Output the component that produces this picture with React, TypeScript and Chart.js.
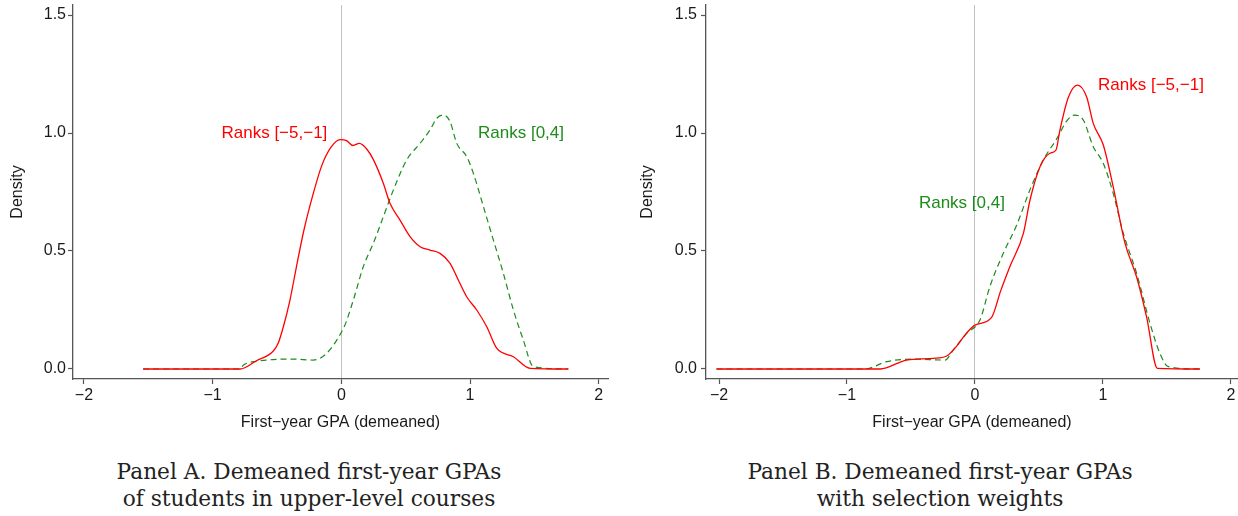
import React, { useEffect, useRef } from 'react';
import { Chart, registerables } from 'chart.js';

Chart.register(...registerables);

// ---------- tick labels ----------
const xTickValues = [-2, -1, 0, 1, 2];
const xTickLabels = ['−2', '−1', '0', '1', '2'];
const yTickValues = [0, 0.5, 1, 1.5];
const yTickLabels = ['0.0', '0.5', '1.0', '1.5'];

const xTitle = 'First−year GPA (demeaned)';
const yTitle = 'Density';
const redName = 'Ranks [−5,−1]';
const greenName = 'Ranks [0,4]';

// ---------- Panel A: Ranks [-5,-1] (red, solid) ----------
const aRedX = [-1.54, -0.787, -0.66, -0.53, -0.49, -0.45, -0.4, -0.35, -0.29, -0.22, -0.15, -0.08, -0.01, 0.04, 0.09, 0.14, 0.2, 0.25, 0.326, 0.378, 0.456, 0.534, 0.612, 0.689, 0.767, 0.845, 0.909, 0.974, 1.052, 1.13, 1.207, 1.337, 1.466, 1.764];
const aRedY = [0, 0, 0.035, 0.075, 0.11, 0.18, 0.29, 0.43, 0.59, 0.74, 0.865, 0.94, 0.972, 0.968, 0.947, 0.956, 0.93, 0.886, 0.787, 0.702, 0.631, 0.561, 0.518, 0.504, 0.49, 0.448, 0.377, 0.306, 0.25, 0.179, 0.088, 0.052, 0.003, 0];

// ---------- Panel A: Ranks [0,4] (green, dashed) ----------
const aGreenX = [-1.54, -0.787, -0.76, -0.65, -0.53, -0.38, -0.218, 0.016, 0.093, 0.171, 0.249, 0.326, 0.404, 0.508, 0.612, 0.689, 0.741, 0.793, 0.845, 0.897, 0.974, 1.026, 1.104, 1.181, 1.259, 1.337, 1.414, 1.492, 1.764];
const aGreenY = [0, 0, 0.017, 0.033, 0.04, 0.042, 0.038, 0.172, 0.292, 0.434, 0.533, 0.645, 0.758, 0.886, 0.956, 1.013, 1.062, 1.076, 1.048, 0.956, 0.9, 0.829, 0.688, 0.547, 0.405, 0.25, 0.123, 0.01, 0];

// ---------- Panel B: Ranks [-5,-1] (red, solid) ----------
const bRedX = [-2.02, -0.742, -0.534, -0.326, -0.221, -0.143, -0.065, 0.0, 0.13, 0.2, 0.273, 0.378, 0.43, 0.508, 0.586, 0.633, 0.664, 0.729, 0.8, 0.872, 0.924, 1.002, 1.08, 1.172, 1.263, 1.341, 1.425, 1.758];
const bRedY = [0, 0, 0.038, 0.045, 0.055, 0.097, 0.153, 0.186, 0.219, 0.33, 0.434, 0.575, 0.716, 0.857, 0.914, 0.928, 1.013, 1.15, 1.203, 1.154, 1.041, 0.95, 0.772, 0.533, 0.39, 0.22, 0.003, 0];

// ---------- Panel B: Ranks [0,4] (green, dashed) ----------
const bGreenX = [-2.02, -0.86, -0.69, -0.48, -0.234, -0.17, -0.065, 0.039, 0.117, 0.221, 0.326, 0.43, 0.534, 0.638, 0.716, 0.775, 0.846, 0.924, 1.002, 1.08, 1.159, 1.263, 1.367, 1.445, 1.51, 1.758];
const bGreenY = [0, 0, 0.031, 0.042, 0.038, 0.08, 0.151, 0.208, 0.35, 0.49, 0.61, 0.76, 0.886, 0.975, 1.05, 1.076, 1.055, 0.942, 0.872, 0.744, 0.575, 0.405, 0.194, 0.066, 0.01, 0];

// ---------- in-plot labels (data coordinates) ----------
const aLabelX = [-0.52, 1.396];
const aLabelY = [1.0, 1.0];
const bLabelX = [1.375, -0.102];
const bLabelY = [1.2, 0.702];

const RED = '#ff0000';
const GREEN = '#1c8c1c';
const AXIS = '#555555';
const TEXT = '#1a1a1a';
const FONT = '"Liberation Sans", Arial, Helvetica, sans-serif';

const toPoints = (xs: number[], ys: number[]) => xs.map((x, i) => ({ x, y: ys[i] }));

const labelPlugin = {
  id: 'rankLabels',
  afterDatasetsDraw(chart: any, _args: any, opts: any) {
    const { ctx, scales } = chart;
    ctx.save();
    ctx.font = `17px ${FONT}`;
    ctx.textAlign = 'center';
    ctx.textBaseline = 'middle';
    (opts.labels || []).forEach((l: any) => {
      ctx.fillStyle = l.color;
      ctx.fillText(l.text, scales.x.getPixelForValue(l.x), scales.y.getPixelForValue(l.y));
    });
    ctx.restore();
  },
};

type PanelProps = {
  left: number;
  width: number;
  height: number;
  yAxisWidth: number;
  xAxisHeight: number;
  rightPad: number;
  xMin: number;
  xMax: number;
  yLabelPad: number;
  redX: number[];
  redY: number[];
  greenX: number[];
  greenY: number[];
  labelX: number[];
  labelY: number[];
};

function Panel(p: PanelProps) {
  const ref = useRef<HTMLCanvasElement | null>(null);
  useEffect(() => {
    if (!ref.current) return;
    const zeroPad = (s: any) => {
      s.paddingLeft = 0;
      s.paddingRight = 0;
      s.paddingTop = 0;
      s.paddingBottom = 0;
    };
    const chart = new Chart(ref.current, {
      type: 'line',
      data: {
        datasets: [
          {
            label: redName,
            data: toPoints(p.redX, p.redY),
            borderColor: RED,
            borderWidth: 1.3,
            pointRadius: 0,
            fill: false,
            cubicInterpolationMode: 'monotone',
          },
          {
            label: greenName,
            data: toPoints(p.greenX, p.greenY),
            borderColor: GREEN,
            borderWidth: 1.2,
            borderDash: [6, 4],
            pointRadius: 0,
            fill: false,
            cubicInterpolationMode: 'monotone',
          },
        ],
      },
      options: {
        animation: false,
        responsive: false,
        devicePixelRatio: 1,
        layout: { padding: { left: 0, right: p.rightPad, top: 5, bottom: 0 } },
        plugins: {
          legend: { display: false },
          tooltip: { enabled: false },
          rankLabels: {
            labels: [
              { text: redName, color: RED, x: p.labelX[0], y: p.labelY[0] },
              { text: greenName, color: GREEN, x: p.labelX[1], y: p.labelY[1] },
            ],
          },
        } as any,
        scales: {
          x: {
            type: 'linear',
            min: p.xMin,
            max: p.xMax,
            afterBuildTicks: (s: any) => {
              s.ticks = xTickValues.map((v) => ({ value: v }));
            },
            afterFit: (s: any) => {
              s.height = p.xAxisHeight;
              zeroPad(s);
            },
            ticks: {
              autoSkip: false,
              maxRotation: 0,
              padding: 2,
              color: TEXT,
              font: { family: FONT, size: 16 },
              callback: (v: any) => xTickLabels[xTickValues.indexOf(Number(v))],
            },
            grid: {
              drawOnChartArea: true,
              drawTicks: true,
              tickLength: 5,
              tickColor: AXIS,
              tickWidth: 1.2,
              lineWidth: 1,
              color: (ctx: any) => (ctx.tick && ctx.tick.value === 0 ? '#c2c2c2' : 'rgba(0,0,0,0)'),
            },
            border: { display: true, color: AXIS, width: 1.3 },
            title: {
              display: true,
              text: xTitle,
              color: TEXT,
              font: { family: FONT, size: 16 },
              padding: { top: 0, bottom: 8 },
            },
          },
          y: {
            type: 'linear',
            min: -0.0424,
            max: 1.5424,
            afterBuildTicks: (s: any) => {
              s.ticks = yTickValues.map((v) => ({ value: v }));
            },
            afterFit: (s: any) => {
              s.width = p.yAxisWidth;
              zeroPad(s);
            },
            ticks: {
              autoSkip: false,
              padding: p.yLabelPad,
              color: TEXT,
              font: { family: FONT, size: 16 },
              callback: (v: any) => yTickLabels[yTickValues.indexOf(Number(v))],
            },
            grid: {
              drawOnChartArea: false,
              drawTicks: true,
              tickLength: 5,
              tickColor: AXIS,
              tickWidth: 1.2,
            },
            border: { display: true, color: AXIS, width: 1.3 },
            title: {
              display: true,
              text: yTitle,
              color: TEXT,
              font: { family: FONT, size: 16 },
              padding: { top: 8.4, bottom: 0 },
            },
          },
        },
      },
      plugins: [labelPlugin as any],
    } as any);
    return () => chart.destroy();
  }, []);
  return (
    <canvas
      ref={ref}
      width={p.width}
      height={p.height}
      style={{ position: 'absolute', left: p.left, top: 0, width: p.width, height: p.height }}
    />
  );
}

const captionStyle = (center: number): React.CSSProperties => ({
  position: 'absolute',
  left: center - 250,
  top: 459,
  width: 500,
  textAlign: 'center',
  fontFamily: '"DejaVu Serif", "Liberation Serif", serif',
  fontSize: 21.7,
  lineHeight: '26.5px',
  color: '#222',
  whiteSpace: 'nowrap',
});

export default function App() {
  return (
    <div style={{ position: 'absolute', left: 0, top: 0, width: 1238, height: 516, background: '#fff', overflow: 'hidden' }}>
      <Panel
        left={0}
        width={620}
        height={440}
        yAxisWidth={73}
        xAxisHeight={61}
        rightPad={12}
        xMin={-2.085}
        xMax={2.072}
        yLabelPad={2}
        redX={aRedX}
        redY={aRedY}
        greenX={aGreenX}
        greenY={aGreenY}
        labelX={aLabelX}
        labelY={aLabelY}
      />
      <Panel
        left={630}
        width={608}
        height={440}
        yAxisWidth={76}
        xAxisHeight={61}
        rightPad={0}
        xMin={-2.1016}
        xMax={2.055}
        yLabelPad={4}
        redX={bRedX}
        redY={bRedY}
        greenX={bGreenX}
        greenY={bGreenY}
        labelX={bLabelX}
        labelY={bLabelY}
      />
      <div style={captionStyle(309)}>
        Panel A. Demeaned first-year GPAs
        <br />
        of students in upper-level courses
      </div>
      <div style={captionStyle(940)}>
        Panel B. Demeaned first-year GPAs
        <br />
        with selection weights
      </div>
    </div>
  );
}
